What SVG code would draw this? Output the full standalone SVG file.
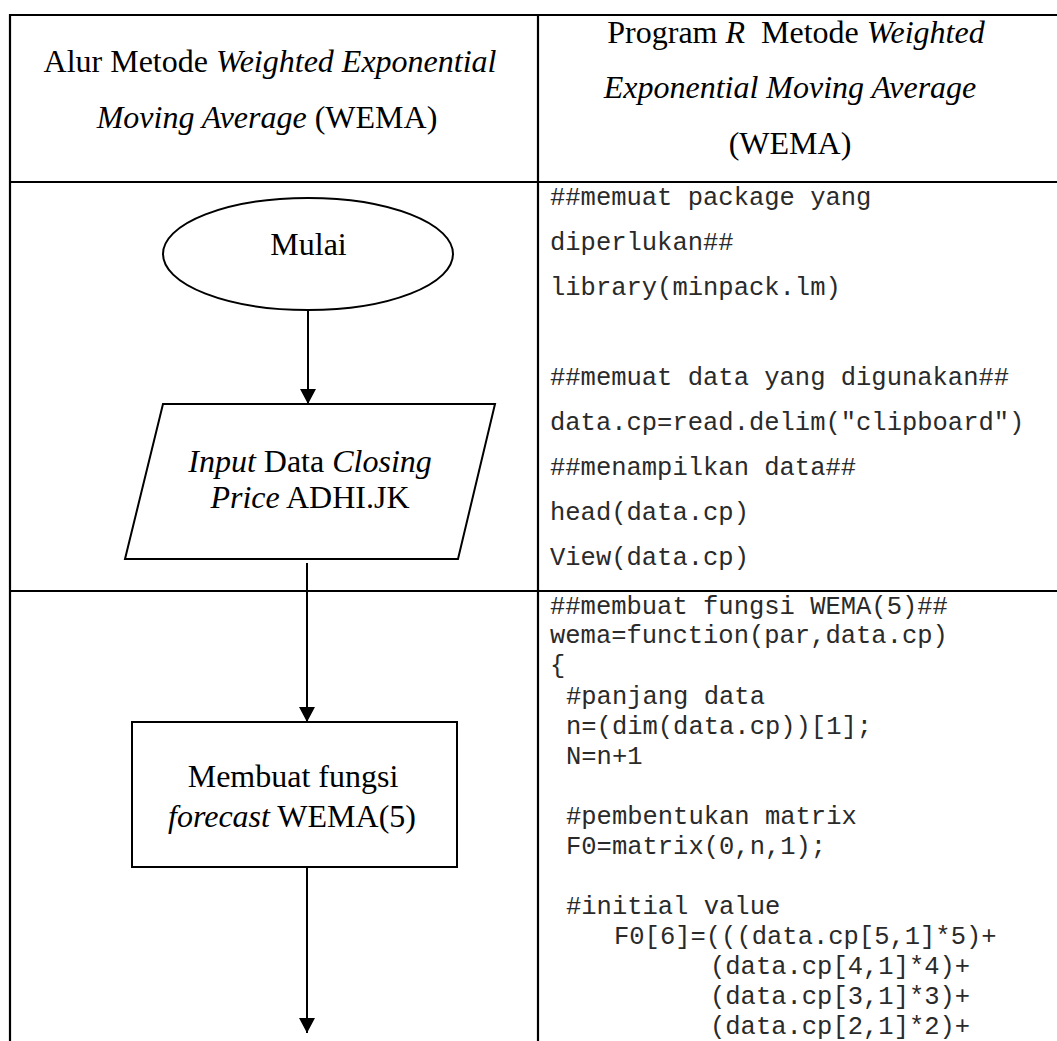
<svg xmlns="http://www.w3.org/2000/svg" width="1057" height="1041" viewBox="0 0 1057 1041">
  <style>
    .grid { stroke: #000; stroke-width: 2.2; fill: none; }
    .shape { stroke: #000; stroke-width: 2; fill: #fff; }
    .flow { stroke: #000; stroke-width: 2; fill: none; }
    .serif { font-family: "Liberation Serif", "Times New Roman", serif; font-size: 32px; fill: #000; }
    .it { font-style: italic; }
    .code { font-family: "Liberation Mono", "Courier New", monospace; font-size: 25.5px; fill: #2a2a2a; }
  </style>
  <defs>
    <marker id="head" viewBox="0 0 15 16" refX="15" refY="8" markerWidth="15" markerHeight="16" markerUnits="userSpaceOnUse" orient="auto">
      <path d="M0,0 L15,8 L0,16 Z" fill="#000"/>
    </marker>
  </defs>

  <rect width="1057" height="1041" fill="#fff"/>

  <!-- table rules -->
  <g id="table">
    <line class="grid" x1="10" y1="15" x2="1057" y2="15"/>
    <line class="grid" x1="10" y1="182" x2="1057" y2="182"/>
    <line class="grid" x1="10" y1="591" x2="1057" y2="591"/>
    <line class="grid" x1="10" y1="14" x2="10" y2="1041"/>
    <line class="grid" x1="538" y1="14" x2="538" y2="1041"/>
  </g>

  <!-- column headings -->
  <g id="header-left">
    <text class="serif" x="270" y="72" text-anchor="middle">Alur Metode <tspan class="it">Weighted Exponential</tspan></text>
    <text class="serif" x="267" y="128" text-anchor="middle"><tspan class="it">Moving Average</tspan> (WEMA)</text>
  </g>
  <g id="header-right">
    <text class="serif" x="796" y="43" text-anchor="middle" xml:space="preserve">Program <tspan class="it">R</tspan>  Metode <tspan class="it">Weighted</tspan></text>
    <text class="serif it" x="790" y="98" text-anchor="middle">Exponential Moving Average</text>
    <text class="serif" x="790" y="154" text-anchor="middle">(WEMA)</text>
  </g>

  <!-- flowchart nodes -->
  <g id="node-mulai">
    <ellipse class="shape" cx="308" cy="254" rx="145" ry="56"/>
    <text class="serif" x="308.5" y="255" text-anchor="middle">Mulai</text>
  </g>
  <g id="node-input">
    <polygon class="shape" points="163,404 495,404 458,559 125,559"/>
    <text class="serif" x="310" y="472" text-anchor="middle"><tspan class="it">Input</tspan> Data <tspan class="it">Closing</tspan></text>
    <text class="serif" x="310" y="508" text-anchor="middle"><tspan class="it">Price</tspan> ADHI.JK</text>
  </g>
  <g id="node-fungsi">
    <rect class="shape" x="132" y="722" width="325" height="145"/>
    <text class="serif" x="293" y="787" text-anchor="middle">Membuat fungsi</text>
    <text class="serif" x="292" y="827" text-anchor="middle"><tspan class="it">forecast</tspan> WEMA(5)</text>
  </g>

  <!-- connectors -->
  <g id="connectors">
    <line class="flow" x1="308" y1="310" x2="308" y2="404" marker-end="url(#head)"/>
    <line class="flow" x1="307" y1="563" x2="307" y2="722" marker-end="url(#head)"/>
    <line class="flow" x1="307" y1="867" x2="307" y2="1033" marker-end="url(#head)"/>
  </g>

  <!-- R code, first block -->
  <g id="code-load">
    <text class="code" x="550" y="205">##memuat package yang</text>
    <text class="code" x="550" y="250">diperlukan##</text>
    <text class="code" x="550" y="295">library(minpack.lm)</text>
    <text class="code" x="550" y="385">##memuat data yang digunakan##</text>
    <text class="code" x="550" y="430">data.cp=read.delim("clipboard")</text>
    <text class="code" x="550" y="475">##menampilkan data##</text>
    <text class="code" x="550" y="520">head(data.cp)</text>
    <text class="code" x="550" y="565">View(data.cp)</text>
  </g>

  <!-- R code, WEMA function -->
  <g id="code-wema">
    <text class="code" x="550" y="614">##membuat fungsi WEMA(5)##</text>
    <text class="code" x="550" y="643">wema=function(par,data.cp)</text>
    <text class="code" x="550" y="673">{</text>
    <text class="code" x="566" y="704">#panjang data</text>
    <text class="code" x="566" y="734">n=(dim(data.cp))[1];</text>
    <text class="code" x="566" y="764">N=n+1</text>
    <text class="code" x="566" y="824">#pembentukan matrix</text>
    <text class="code" x="566" y="854">F0=matrix(0,n,1);</text>
    <text class="code" x="566" y="914">#initial value</text>
    <text class="code" x="614" y="944">F0[6]=(((data.cp[5,1]*5)+</text>
    <text class="code" x="710" y="974">(data.cp[4,1]*4)+</text>
    <text class="code" x="710" y="1004">(data.cp[3,1]*3)+</text>
    <text class="code" x="710" y="1034">(data.cp[2,1]*2)+</text>
  </g>
</svg>
